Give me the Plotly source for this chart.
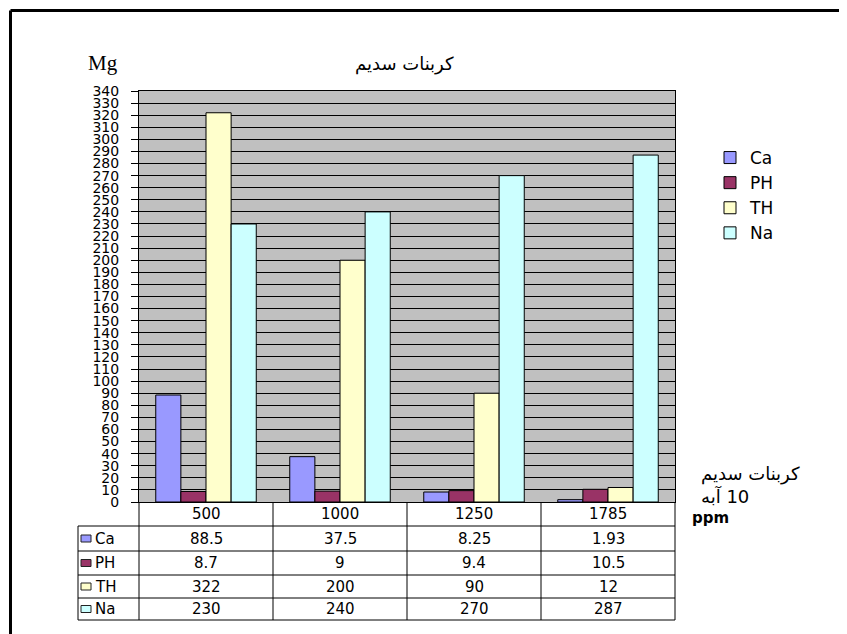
import plotly.graph_objects as go

# ---- data ----
categories = ["500", "1000", "1250", "1785"]
series_names = ["Ca", "PH", "TH", "Na"]
ca_values = [88.5, 37.5, 8.25, 1.93]
ph_values = [8.7, 9, 9.4, 10.5]
th_values = [322, 200, 90, 12]
na_values = [230, 240, 270, 287]
y_tick_values = list(range(0, 341, 10))
chart_title = "کربنات سدیم"
y_unit_label = "Mg"
side_label_1 = "کربنات سدیم"
side_label_2 = "\u200f10 آبه"
x_unit_label = "ppm"

series_values = [ca_values, ph_values, th_values, na_values]
colors = ["#9999FF", "#993366", "#FFFFCC", "#CCFFFF"]

# ---- layout geometry (pixels in the 847x634 window; page body has an 8px margin) ----
OFF = 8
W, H = 847 - OFF, 634 - OFF
PL, PR, PT, PB = 139, 675, 91, 502  # plot area in window pixels


def xp(px):
    return (px - PL) / (PR - PL)


def yp(py):
    return (PB - py) / (PB - PT)


fig = go.Figure()
for name, vals, col in zip(series_names, series_values, colors):
    fig.add_trace(go.Bar(
        x=list(range(len(categories))), y=vals, name=name,
        marker=dict(color=col, line=dict(color="black", width=1)),
        customdata=categories,
        hovertemplate="%{customdata}: %{y}<extra>" + name + "</extra>",
    ))

shapes = []
annotations = []

# outer frame (top and left edges)
shapes.append(dict(type="line", xref="paper", yref="paper",
                   x0=xp(10.5), y0=yp(10.5), x1=xp(W + OFF + 5), y1=yp(10.5),
                   line=dict(color="black", width=3)))
shapes.append(dict(type="line", xref="paper", yref="paper",
                   x0=xp(10.5), y0=yp(10.5), x1=xp(10.5), y1=yp(H + OFF + 5),
                   line=dict(color="black", width=3)))

# data table
row_edges = [526, 551, 575, 598, 620]
col_w = (PR - PL) / len(categories)
col_edges = [PL + i * col_w for i in range(len(categories) + 1)]
LABEL_X0 = 78
for ry in row_edges:
    shapes.append(dict(type="line", xref="paper", yref="paper",
                       x0=xp(LABEL_X0), x1=xp(PR), y0=yp(ry), y1=yp(ry),
                       line=dict(color="black", width=1)))
for cx in col_edges:
    shapes.append(dict(type="line", xref="paper", yref="paper",
                       x0=xp(cx), x1=xp(cx), y0=yp(PB), y1=yp(row_edges[-1]),
                       line=dict(color="black", width=1)))
shapes.append(dict(type="line", xref="paper", yref="paper",
                   x0=xp(LABEL_X0), x1=xp(LABEL_X0), y0=yp(row_edges[0]), y1=yp(row_edges[-1]),
                   line=dict(color="black", width=1)))

tfont = dict(family="DejaVu Sans", size=15, color="black")
# header
for i, c in enumerate(categories):
    annotations.append(dict(x=i, xref="x", y=yp((PB + row_edges[0]) / 2), yref="paper",
                            text=c, showarrow=False, font=tfont,
                            xanchor="center", yanchor="middle"))
# rows
for r, (name, vals, col) in enumerate(zip(series_names, series_values, colors)):
    cy = (row_edges[r] + row_edges[r + 1]) / 2
    shapes.append(dict(type="rect", xref="paper", yref="paper",
                       x0=xp(81), x1=xp(91), y0=yp(cy - 3.5), y1=yp(cy + 3.5),
                       fillcolor=col, line=dict(color="#222222", width=1)))
    annotations.append(dict(x=xp(93), xref="paper", y=yp(cy), yref="paper",
                            text=name, showarrow=False, font=tfont,
                            xanchor="left", yanchor="middle"))
    for i, v in enumerate(vals):
        annotations.append(dict(x=i, xref="x", y=yp(cy), yref="paper",
                                text=f"{v:g}", showarrow=False, font=tfont,
                                xanchor="center", yanchor="middle"))

# titles and side labels
arfont = dict(family="DejaVu Sans", size=18, color="black")
annotations.append(dict(x=xp(404), xref="paper", y=yp(64), yref="paper",
                        text=chart_title, showarrow=False, font=arfont,
                        xanchor="center", yanchor="middle"))
annotations.append(dict(x=xp(86), xref="paper", y=yp(63), yref="paper",
                        text=y_unit_label, showarrow=False,
                        font=dict(family="Liberation Serif", size=21, color="black"),
                        xanchor="left", yanchor="middle"))
annotations.append(dict(x=xp(699), xref="paper", y=yp(474), yref="paper",
                        text=side_label_1, showarrow=False, font=arfont,
                        xanchor="left", yanchor="middle"))
annotations.append(dict(x=xp(699), xref="paper", y=yp(496), yref="paper",
                        text=side_label_2, showarrow=False, font=arfont,
                        xanchor="left", yanchor="middle"))
annotations.append(dict(x=xp(690), xref="paper", y=yp(518), yref="paper",
                        text="<b>" + x_unit_label + "</b>", showarrow=False,
                        font=dict(family="DejaVu Sans", size=15, color="black"),
                        xanchor="left", yanchor="middle"))

fig.update_layout(
    width=W, height=H, autosize=False,
    margin=dict(l=PL - OFF, r=W + OFF - PR, t=PT - OFF, b=H + OFF - PB, pad=0),
    paper_bgcolor="white", plot_bgcolor="#C0C0C0",
    barmode="group", bargap=0.25, bargroupgap=0,
    showlegend=True,
    legend=dict(x=xp(710), y=yp(140), xanchor="left", yanchor="top",
                font=dict(family="DejaVu Sans", size=17, color="black"),
                bgcolor="rgba(0,0,0,0)", tracegroupgap=0, itemwidth=30),
    shapes=shapes, annotations=annotations,
    xaxis=dict(range=[-0.5, len(categories) - 0.5],
               showticklabels=False, ticks="", showgrid=False, zeroline=False,
               showline=True, linecolor="black", linewidth=1, mirror=True),
    yaxis=dict(range=[0, 340], tickvals=y_tick_values,
               ticktext=[str(v) for v in y_tick_values],
               ticks="outside", ticklen=7, tickcolor="black", tickwidth=1,
               ticklabelstandoff=9,
               tickfont=dict(family="DejaVu Sans", size=14, color="black"),
               showgrid=True, gridcolor="black", gridwidth=1, zeroline=False,
               showline=True, linecolor="black", linewidth=1, mirror=True),
)

fig.write_html("out.html")
